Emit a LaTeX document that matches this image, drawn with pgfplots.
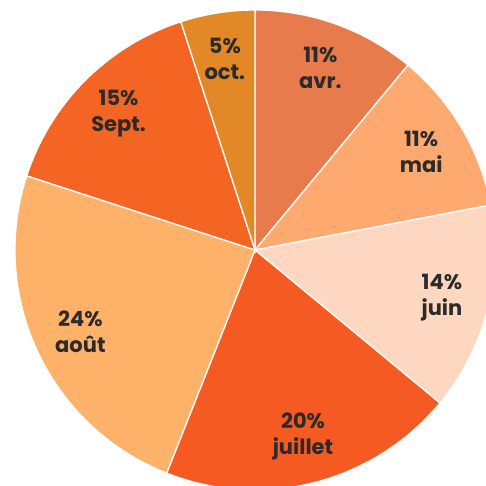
\documentclass[border=0pt]{standalone}
\usepackage{pgfplots}
\usepackage{pgfplotstable}
\pgfplotsset{compat=1.18}
\usepackage{fontspec}
\setmainfont{Poppins}
\definecolor{txt}{HTML}{2B2B2B}

\pgfplotstableread{
label pct col
avr. 11 E77B4C
mai 11 FDA96F
juin 14 FDD7BF
juillet 20 F55A23
août 24 FDB169
Sept. 15 F46524
oct. 5 E28826
}\piedata

% pie geometry in pixel units (y up)
\def\cx{255}\def\cy{236}\def\R{240}\def\LR{193}
\def\cum{0}
\pgfplotsforeachungrouped \i in {0,...,6}{%
  \pgfplotstablegetelem{\i}{pct}\of\piedata
  \let\p\pgfplotsretval
  \pgfplotstablegetelem{\i}{col}\of\piedata
  \xglobal\definecolor{c\i}{HTML}{\pgfplotsretval}%
  \pgfplotstablegetelem{\i}{label}\of\piedata
  \expandafter\xdef\csname lb\i\endcsname{\pgfplotsretval}%
  \expandafter\xdef\csname pc\i\endcsname{\p}%
  \pgfmathsetmacro\sa{90-3.6*\cum}%
  \pgfmathsetmacro\cumn{\cum+\p}%
  \pgfmathsetmacro\se{90-3.6*\cumn}%
  \pgfmathsetmacro\mid{(\sa+\se)/2}%
  \pgfmathsetmacro\lx{\cx+\LR*cos(\mid)}%
  \pgfmathsetmacro\ly{\cy+\LR*sin(\mid)}%
  \expandafter\xdef\csname sa\i\endcsname{\sa}%
  \expandafter\xdef\csname se\i\endcsname{\se}%
  \expandafter\xdef\csname lx\i\endcsname{\lx}%
  \expandafter\xdef\csname ly\i\endcsname{\ly}%
  \xdef\cum{\cumn}%
}

\begin{document}
\begin{tikzpicture}
\begin{axis}[
  hide axis, scale only axis,
  width=486bp, height=486bp,
  xmin=0, xmax=486, ymin=0, ymax=486,
  clip=true,
]
\pgfplotsinvokeforeach{0,...,6}{%
  \fill[c#1, draw=white, line width=1.3bp]
    (axis cs:\cx,\cy) -- ++(\csname sa#1\endcsname:\R bp)
    arc[start angle=\csname sa#1\endcsname, end angle=\csname se#1\endcsname, radius=\R bp] -- cycle;
}
\pgfplotsinvokeforeach{0,...,6}{%
  \node[align=center, text=txt, font=\fontsize{21bp}{26bp}\selectfont\bfseries, inner sep=0pt]
    at (axis cs:\csname lx#1\endcsname,\csname ly#1\endcsname)
    {\csname pc#1\endcsname\%\\\csname lb#1\endcsname};
}
\end{axis}
\pgfresetboundingbox
\useasboundingbox (current axis.south west) rectangle (current axis.north east);
\end{tikzpicture}
\end{document}
